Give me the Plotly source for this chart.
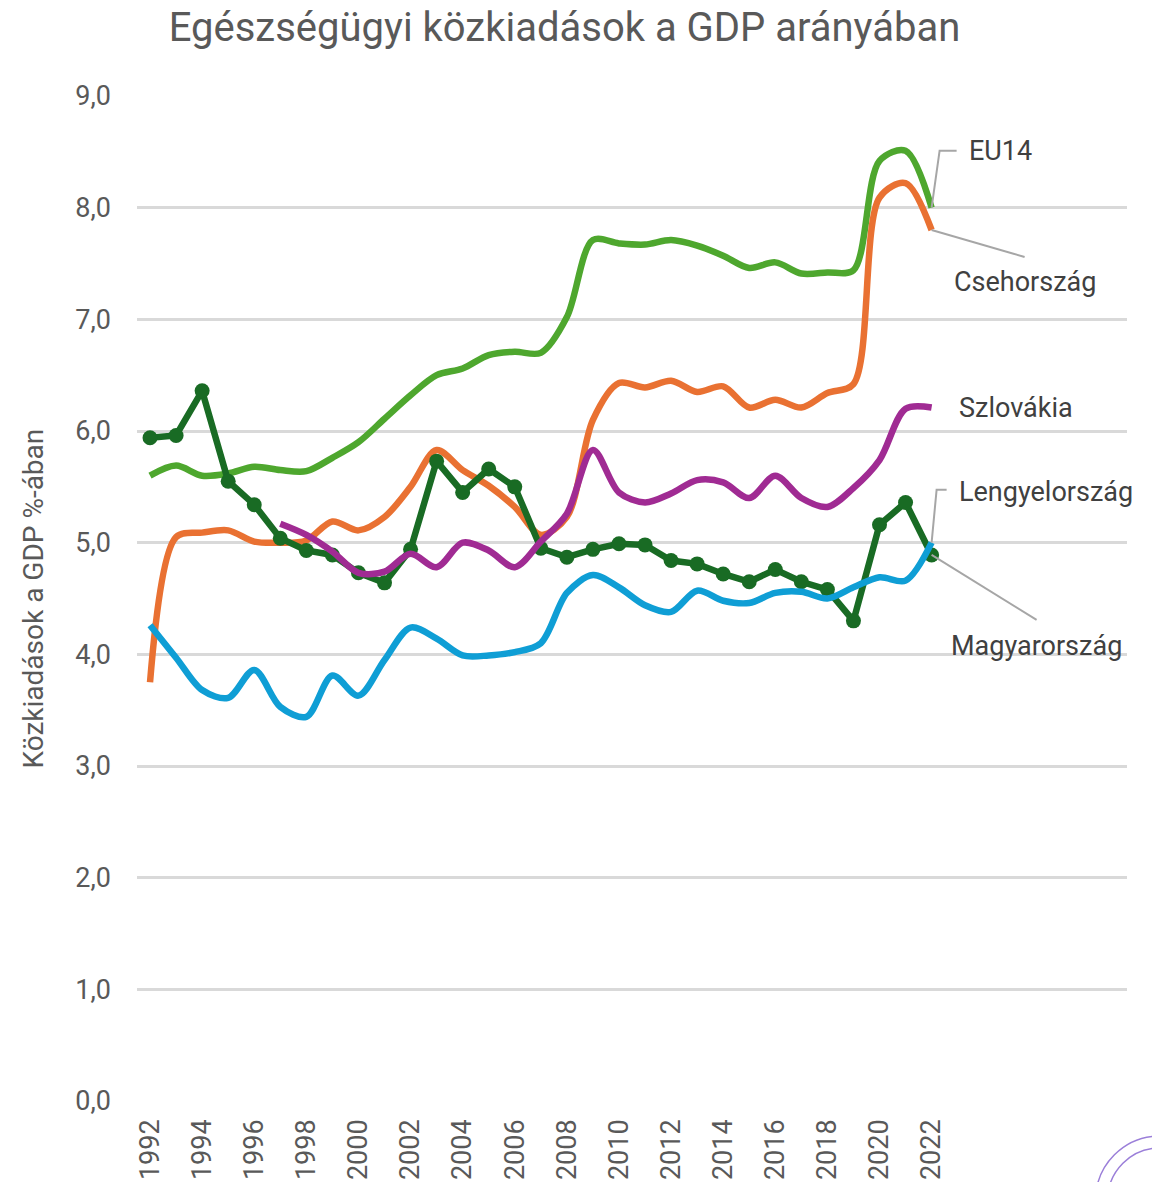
import plotly.graph_objects as go

years = list(range(1992, 2023))
years_sk = list(range(1997, 2023))
tick_years = list(range(1992, 2023, 2))

eu14 = [5.60, 5.69, 5.60, 5.62, 5.68, 5.65, 5.64, 5.76, 5.90, 6.11, 6.32, 6.50, 6.56, 6.68, 6.71, 6.70,
        7.02, 7.71, 7.68, 7.67, 7.71, 7.66, 7.57, 7.46, 7.51, 7.41, 7.42, 7.44, 8.42, 8.51, 8.00]
czech = [3.75, 5.05, 5.09, 5.11, 5.01, 5.00, 5.02, 5.19, 5.11, 5.23, 5.50, 5.83, 5.65, 5.51, 5.32, 5.07,
         5.23, 6.10, 6.43, 6.39, 6.45, 6.35, 6.40, 6.21, 6.28, 6.21, 6.34, 6.42, 8.09, 8.22, 7.80]
slovakia = [5.17, 5.07, 4.92, 4.73, 4.74, 4.90, 4.78, 5.00, 4.93, 4.78, 5.01, 5.26, 5.83, 5.45, 5.36,
            5.44, 5.56, 5.54, 5.40, 5.60, 5.40, 5.32, 5.49, 5.74, 6.20, 6.21]
poland = [4.26, 3.97, 3.68, 3.61, 3.86, 3.53, 3.44, 3.81, 3.63, 3.95, 4.24, 4.14, 3.99, 3.99, 4.02, 4.10,
          4.55, 4.71, 4.60, 4.44, 4.38, 4.57, 4.48, 4.46, 4.55, 4.56, 4.50, 4.60, 4.69, 4.66, 5.00]
hungary = [5.94, 5.96, 6.36, 5.55, 5.34, 5.04, 4.93, 4.89, 4.73, 4.64, 4.94, 5.73, 5.45, 5.66, 5.50, 4.95,
           4.87, 4.94, 4.99, 4.98, 4.84, 4.81, 4.72, 4.65, 4.76, 4.65, 4.58, 4.30, 5.16, 5.36, 4.89]

C_EU = "#4EA72E"
C_CZ = "#E97132"
C_SK = "#A02B93"
C_PL = "#0F9ED5"
C_HU = "#196B24"
TXT = "#595959"
LBL = "#404040"
FONT = "Roboto, Noto Sans, sans-serif"

fig = go.Figure()
W = 6.5
fig.add_trace(go.Scatter(x=years, y=eu14, name="EU14", mode="lines",
                         line=dict(color=C_EU, width=W, shape="spline", smoothing=0.9)))
fig.add_trace(go.Scatter(x=years, y=czech, name="Csehország", mode="lines",
                         line=dict(color=C_CZ, width=W, shape="spline", smoothing=0.9)))
fig.add_trace(go.Scatter(x=years, y=hungary, name="Magyarország", mode="lines+markers",
                         line=dict(color=C_HU, width=W),
                         marker=dict(color=C_HU, size=15)))
fig.add_trace(go.Scatter(x=years_sk, y=slovakia, name="Szlovákia", mode="lines",
                         line=dict(color=C_SK, width=W, shape="spline", smoothing=0.9)))
fig.add_trace(go.Scatter(x=years, y=poland, name="Lengyelország", mode="lines",
                         line=dict(color=C_PL, width=W, shape="spline", smoothing=0.9)))

# Labels with leader lines (pixel offsets from the 2022 data point)
labels = [
    ("EU14", eu14[-1], "M0,0 L8,57 L25,57", 35, 57, "left"),
    ("Csehország", czech[-1], "M0,0 L93,-27", 93, -52, "center"),
    ("Szlovákia", slovakia[-1], None, 25, 0, "left"),
    ("Lengyelország", poland[-1], "M0,0 L5,53 L15,53", 25, 51, "left"),
    ("Magyarország", hungary[-1], "M0,0 L105,-65", 105, -91, "center"),
]
for name, val, path, xs, ys, xa in labels:
    if path:
        fig.add_shape(type="path", path=path, xref="x", yref="y",
                      xsizemode="pixel", ysizemode="pixel",
                      xanchor=years[-1], yanchor=val,
                      line=dict(color="#A6A6A6", width=2), layer="above")
    fig.add_annotation(x=years[-1], y=val, text=name, showarrow=False,
                       xshift=xs, yshift=ys, xanchor=xa, yanchor="middle",
                       font=dict(family=FONT, size=27, color=LBL))

# y-axis title as rotated annotation
fig.add_annotation(xref="paper", yref="paper", x=0, y=0.5, xshift=-104,
                   text="Közkiadások a GDP %-ában", textangle=-90, showarrow=False,
                   xanchor="center", yanchor="middle",
                   font=dict(family=FONT, size=28, color=TXT))

# faint emblem partially visible in bottom-right corner
for r in (64, 52):
    fig.add_shape(type="circle", xref="paper", yref="paper",
                  xsizemode="pixel", ysizemode="pixel", xanchor=1.033, yanchor=-0.0985,
                  x0=-r, x1=r, y0=-r, y1=r,
                  line=dict(color="#9B7FD9", width=1.5), layer="above")

fig.update_layout(
    width=1152, height=1182, autosize=False,
    margin=dict(l=137, r=25, t=96, b=81),
    paper_bgcolor="white", plot_bgcolor="white",
    showlegend=False,
    separators=", ",
    title=dict(text="Egészségügyi közkiadások a GDP arányában",
               x=0.49, xanchor="center", y=0.977, yanchor="middle",
               font=dict(family=FONT, size=40, color=TXT)),
    font=dict(family=FONT, color=TXT),
)
fig.update_xaxes(range=[1991.5, 2029.5], tickmode="array", tickvals=tick_years,
                 ticktext=[str(y) for y in tick_years], tickangle=-90,
                 showgrid=False, zeroline=False, showline=False, ticks="",
                 ticklabelstandoff=12, automargin=False,
                 tickfont=dict(family=FONT, size=27, color=TXT))
fig.update_yaxes(range=[0, 9], dtick=1, tickformat=".1f",
                 showgrid=True, gridcolor="#D9D9D9", gridwidth=3,
                 zeroline=False, showline=False, ticks="",
                 ticklabelstandoff=25, automargin=False,
                 tickfont=dict(family=FONT, size=27, color=TXT))

fig.write_html("out.html", config={"displayModeBar": False},
               post_script="document.body.style.margin='0';")
